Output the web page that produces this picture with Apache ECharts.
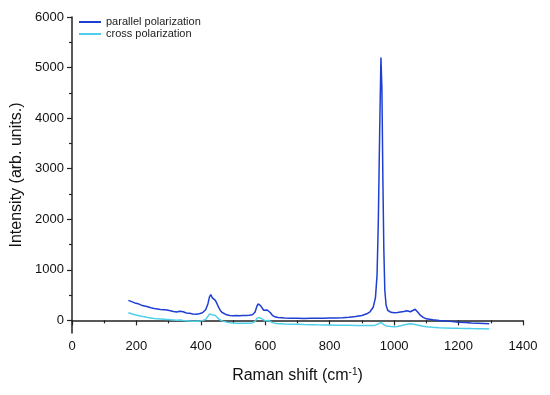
<!DOCTYPE html>
<html><head><meta charset="utf-8">
<script src="https://cdn.jsdelivr.net/npm/echarts@6/dist/echarts.min.js"></script>
<style>html,body{margin:0;padding:0;background:#fff}#c{width:550px;height:395px}</style>
</head><body><div id="c"></div>
<script>
const seriesNames = ['parallel polarization', 'cross polarization'];
const shift = [175,185,195,205,215,225,235,245,255,265,275,285,295,305,315,325,335,345,355,365,375,385,395,405,415,422,427,431,435,440,445,450,455,460,465,470,480,490,500,510,520,530,540,550,560,568,574,578,582,586,590,595,600,606,611,616,622,630,640,650,660,680,700,720,740,760,780,800,820,840,860,880,900,915,925,935,942,947,951,955,959,962,965,968,971,975,980,990,1000,1010,1020,1030,1040,1045,1050,1058,1065,1070,1075,1080,1090,1100,1120,1140,1160,1180,1200,1220,1240,1260,1280,1295];
const parallel = [395,370,345,330,300,285,270,250,235,225,215,210,205,190,175,165,182,170,145,140,125,120,132,150,210,330,470,510,450,420,395,330,260,200,160,125,110,98,90,95,92,98,95,100,110,160,280,325,300,285,250,200,175,205,195,150,100,70,55,50,45,42,40,38,40,42,40,45,48,52,60,75,95,130,170,260,450,900,2000,3700,5200,4600,2800,1400,600,300,200,160,150,155,165,175,190,180,170,195,220,205,150,110,60,30,10,-5,-15,-25,-35,-42,-50,-55,-62,-68];
const cross = [150,130,110,95,80,70,55,45,35,30,25,20,15,10,5,0,5,-5,-10,-15,-20,-20,-15,-5,20,80,125,135,110,105,95,60,30,5,-10,-25,-35,-45,-50,-55,-55,-58,-55,-55,-50,-20,40,65,55,45,30,5,-10,0,-5,-25,-45,-55,-65,-68,-72,-75,-78,-82,-85,-88,-90,-92,-95,-97,-98,-100,-100,-102,-100,-100,-95,-85,-70,-55,-40,-45,-65,-85,-100,-110,-118,-122,-125,-120,-105,-90,-75,-65,-65,-70,-80,-90,-95,-105,-118,-128,-138,-145,-150,-155,-158,-160,-163,-165,-168,-172];
const xTicks = [0,200,400,600,800,1000,1200,1400];
const yTicks = [0,1000,2000,3000,4000,5000,6000];
const yMinor = [500,1500,2500,3500,4500,5500];

const chart = echarts.init(document.getElementById('c'), null, {renderer:'canvas'});
const axisCol = '#222';
const font = 'Liberation Sans, Arial, sans-serif';
chart.setOption({
  animation:false,
  grid:{left:72,right:27,top:17,bottom:62},
  legend:{
    data:seriesNames.map(n=>({name:n, icon:'rect'})), orient:'vertical', left:74, top:11, itemWidth:22, itemHeight:2, itemGap:0,
    textStyle:{fontFamily:font, fontSize:11, color:'#222', lineHeight:12}
  },
  xAxis:{
    type:'value', min:0, max:1400, interval:200,
    name:'{a|Raman shift (cm}{s|-1}{a|)}', nameLocation:'middle', nameGap:34,
    nameTextStyle:{rich:{a:{fontFamily:font,fontSize:16,color:'#111'}, s:{fontFamily:font,fontSize:10,color:'#111',verticalAlign:'top',padding:[0,0,8,0]}}},
    axisLine:{lineStyle:{color:axisCol,width:1.5}},
    axisTick:{length:5, lineStyle:{color:axisCol,width:1.2}},
    minorTick:{show:true, splitNumber:2, length:3, lineStyle:{color:axisCol,width:1.2}},
    axisLabel:{fontFamily:font, fontSize:13, color:'#111', margin:7, formatter:v=>String(v)},
    splitLine:{show:false}
  },
  yAxis:[{
    type:'value', min:-250, max:6000,
    name:'Intensity (arb. units.)', nameLocation:'middle', nameGap:40,
    nameTextStyle:{fontFamily:font, fontSize:16, color:'#111'},
    axisLine:{show:true, lineStyle:{color:axisCol,width:1.5}},
    axisTick:{show:true, length:5, customValues:yTicks, lineStyle:{color:axisCol,width:1.2}},
    axisLabel:{fontFamily:font, fontSize:13, color:'#111', margin:8, customValues:yTicks, formatter:v=>String(v)},
    splitLine:{show:false}
  },{
    type:'value', min:-250, max:6000, position:'left',
    axisLine:{show:false},
    axisTick:{show:true, length:3, customValues:yMinor, lineStyle:{color:axisCol,width:1.2}},
    axisLabel:{show:false},
    splitLine:{show:false}
  }],
  series:[{
    name:seriesNames[0], type:'line', symbol:'none', yAxisIndex:0,
    data:shift.map((x,i)=>[x,parallel[i]]),
    lineStyle:{color:'#1f3fd2', width:1.5}, itemStyle:{color:'#1f3fd2'}
  },{
    name:seriesNames[1], type:'line', symbol:'none', yAxisIndex:0,
    data:shift.map((x,i)=>[x,cross[i]]),
    lineStyle:{color:'#4fd0ea', width:1.5}, itemStyle:{color:'#4fd0ea'}
  }]
});
</script></body></html>
